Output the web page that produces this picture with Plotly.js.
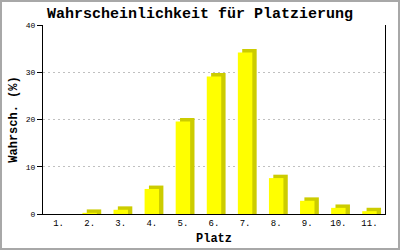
<!DOCTYPE html>
<html>
<head>
<meta charset="utf-8">
<script src="https://cdn.plot.ly/plotly-3.0.1.min.js"></script>
<style>
  html, body { margin: 0; padding: 0; background: #fff; }
  #wrap { position: relative; width: 400px; height: 250px; }
  #chart { width: 400px; height: 250px; }
  #frame { position: absolute; left: 0; top: 0; width: 400px; height: 250px; box-sizing: border-box; border: 2px solid #a8a8a8; pointer-events: none; }
</style>
</head>
<body>
<div id="wrap"><div id="chart"></div><div id="frame"></div></div>
<script>
const places = [1, 2, 3, 4, 5, 6, 7, 8, 9, 10, 11];
const placeLabels = ["1.", "2.", "3.", "4.", "5.", "6.", "7.", "8.", "9.", "10.", "11."];
const probability = [0, 0.25, 0.9, 5.3, 19.6, 29.1, 34.2, 7.6, 2.8, 1.3, 0.6];
const yTicks = [0, 10, 20, 30, 40];

const barW = 0.465;
const depthX = 0.14;
const depthY = 0.72;
const mono = "Liberation Mono, DejaVu Sans Mono, monospace";

const side = {
  type: "bar",
  x: places,
  y: probability.map(v => v > 0 ? v + depthY : 0),
  width: barW,
  offset: -barW / 2 + depthX,
  marker: { color: "#cccc00", line: { width: 0 } },
  hoverinfo: "skip",
  showlegend: false
};
const front = {
  type: "bar",
  x: places,
  y: probability,
  width: barW,
  marker: { color: "#ffff00", line: { width: 0 } },
  showlegend: false
};

const layout = {
  width: 400,
  height: 250,
  margin: { l: 43, r: 15, t: 25, b: 36 },
  paper_bgcolor: "#ffffff",
  plot_bgcolor: "#ffffff",
  barmode: "overlay",
  title: {
    text: "<b>Wahrscheinlichkeit für Platzierung</b>",
    font: { family: mono, size: 15, color: "#000" },
    x: 0.5, xref: "container", xanchor: "center",
    y: 0.948, yref: "container", yanchor: "middle"
  },
  xaxis: {
    range: [0.5, 11.5],
    tickvals: places,
    ticktext: placeLabels,
    ticks: "",
    showgrid: false,
    zeroline: false,
    showline: true,
    linecolor: "#000",
    linewidth: 1,
    tickfont: { family: mono, size: 9, color: "#000" },
    title: { text: "<b>Platz</b>", font: { family: mono, size: 12, color: "#000" }, standoff: 5 }
  },
  yaxis: {
    range: [0, 40],
    tickvals: yTicks,
    ticks: "outside",
    ticklen: 5,
    tickcolor: "#000",
    showline: true,
    mirror: true,
    linecolor: "#000",
    linewidth: 1,
    zeroline: false,
    showgrid: true,
    gridcolor: "#c0c0c0",
    griddash: "2px,3px",
    gridwidth: 1,
    tickfont: { family: mono, size: 8, color: "#000" },
    title: { text: "<b>Wahrsch. (%)</b>", font: { family: mono, size: 12, color: "#000" }, standoff: 5 }
  }
};

Plotly.newPlot("chart", [side, front], layout, { displayModeBar: false, staticPlot: true });
</script>
</body>
</html>
